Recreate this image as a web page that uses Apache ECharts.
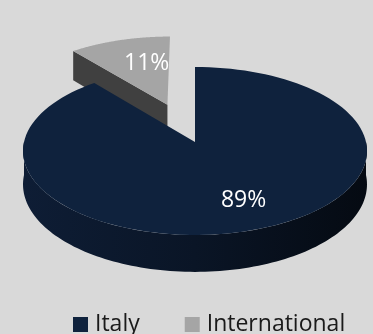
<!DOCTYPE html>
<html><head><meta charset="utf-8">
<script src="https://cdn.jsdelivr.net/npm/echarts@6/dist/echarts.min.js"></script>
<style>html,body{margin:0;padding:0;background:#d9d9d9}#c{width:373px;height:334px}</style>
</head><body><div id="c"></div>
<script>
// Data
const categories = ['Italy', 'International'];
const values = [89, 11];
const labels = ['89%', '11%'];
const topColors = ['#0f223d', '#a5a5a5'];
const sideColors = ['#0c1a2e', '#404040'];
const explode = [0, 0.5];
const labelRadius = [0.7, 0.62];

// Projection settings (layout)
const CX = 195, CY = 142, RX = 171, RY = 83, P = 0.107, H = 33;
const total = values.reduce((a, b) => a + b, 0);
const starts = [];
let acc = 0;
values.forEach(v => { starts.push(acc / total * 360); acc += v; });

function proj(u, v, z) {
  const s = 1 / (1 + P * v);
  return [CX + RX * u * s, CY - RY * v * s + z * H * s];
}
function disk(theta, r, ou, ov) {
  const t = theta * Math.PI / 180;
  return [ou + r * Math.sin(t), ov + r * Math.cos(t)];
}

function makeRender(idx) {
  return function (params, api) {
    const val = api.value(0);
    const a0 = starts[idx];
    const a1 = a0 + val / total * 360;
    const mid = (a0 + a1) / 2 * Math.PI / 180;
    const ou = explode[idx] * Math.sin(mid), ov = explode[idx] * Math.cos(mid);
    const children = [];
    const steps = 120;
    const f0 = Math.max(a0, 90), f1 = Math.min(a1, 270);
    if (f1 > f0) {
      const pts = [], bot = [];
      for (let i = 0; i <= steps; i++) {
        const th = f0 + (f1 - f0) * i / steps;
        const d = disk(th, 1, ou, ov);
        pts.push(proj(d[0], d[1], 0));
        bot.push(proj(d[0], d[1], 1));
      }
      children.push({
        type: 'polygon', shape: { points: pts.concat(bot.reverse()) },
        style: { fill: new echarts.graphic.LinearGradient(0, 0, 1, 0, [
          { offset: 0, color: '#0e1d35' }, { offset: 0.5, color: '#0a1526' }, { offset: 1, color: '#050a12' }]) }
      });
    }
    if (explode[idx] > 0) {
      const c = [ou, ov];
      const e = disk(a0, 1, ou, ov);
      children.push({
        type: 'polygon',
        shape: { points: [proj(c[0], c[1], 0), proj(e[0], e[1], 0), proj(e[0], e[1], 1), proj(c[0], c[1], 1)] },
        style: { fill: sideColors[idx] }
      });
    }
    const top = [proj(ou, ov, 0)];
    for (let i = 0; i <= steps; i++) {
      const th = a0 + (a1 - a0) * i / steps;
      const d = disk(th, 1, ou, ov);
      top.push(proj(d[0], d[1], 0));
    }
    children.push({ type: 'polygon', shape: { points: top }, style: { fill: topColors[idx] } });
    const lt = disk((a0 + a1) / 2, labelRadius[idx], ou, ov);
    const lp = proj(lt[0], lt[1], 0);
    children.push({
      type: 'text', x: lp[0] + (idx === 1 ? 10 : 5), y: lp[1],
      style: { text: labels[idx], fill: '#ffffff', font: '23px "Open Sans", sans-serif', align: 'center', verticalAlign: 'middle' }
    });
    return { type: 'group', children: children };
  };
}

const chart = echarts.init(document.getElementById('c'), null, { renderer: 'canvas' });
const order = [1, 0];
chart.setOption({
  backgroundColor: '#d9d9d9',
  animation: false,
  legend: {
    data: categories.map(n => ({ name: n, icon: 'rect' })),
    left: 73, top: 313, itemWidth: 15, itemHeight: 15, itemGap: 45, padding: 0,
    textStyle: { fontSize: 23, color: '#1a1a1a', fontFamily: '"Open Sans", sans-serif', padding: [0, 0, 0, 2] }
  },
  series: order.map(i => ({
    type: 'custom', name: categories[i], coordinateSystem: 'none',
    itemStyle: { color: topColors[i] },
    data: [[values[i]]],
    renderItem: makeRender(i)
  }))
});
</script></body></html>
